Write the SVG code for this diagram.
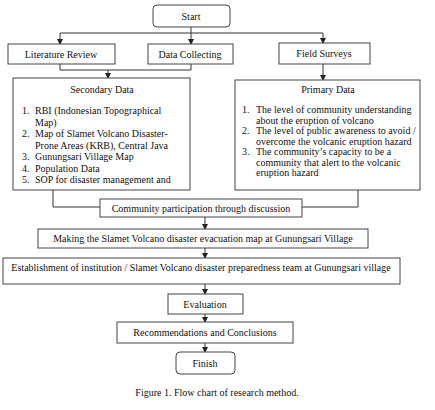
<svg xmlns="http://www.w3.org/2000/svg" width="435" height="410" viewBox="0 0 435 410">
<defs>
<marker id="ah" markerWidth="6" markerHeight="6" refX="5" refY="3" orient="auto" markerUnits="userSpaceOnUse">
<path d="M0,0 L6,3 L0,6 z" fill="#222"/>
</marker>
<style>
.box{fill:#fff;stroke:#444;stroke-width:1}
.ln{fill:none;stroke:#333;stroke-width:1}
.ar{fill:none;stroke:#333;stroke-width:1;marker-end:url(#ah)}
text{font-family:"Liberation Serif","Times New Roman",serif;font-size:10px;fill:#111}
.c{text-anchor:middle}
</style>
</defs>
<rect width="435" height="410" fill="#fff"/>
<g id="connectors">
<path class="ln" d="M60,33 H323"/>
<path class="ar" d="M191,27 V44"/>
<path class="ar" d="M60,33 V44"/>
<path class="ar" d="M323,33 V43"/>
<path class="ln" d="M60,64 V70 H191 V64"/>
<path class="ar" d="M108,70 V78"/>
<path class="ar" d="M323,64 V80"/>
<path class="ln" d="M53,190 V207 H100"/>
<path class="ln" d="M358,190 V207 H302"/>
<path class="ar" d="M205,217 V229"/>
<path class="ar" d="M205,248 V258"/>
<path class="ar" d="M205,284 V294"/>
<path class="ar" d="M205,314 V322"/>
<path class="ar" d="M205,343 V352"/>
</g>
<g id="start"><rect class="box" x="153" y="5" width="77" height="22" rx="4"/><text class="c" x="191" y="19.5">Start</text></g>
<g id="literature"><rect class="box" x="8" y="44" width="107" height="20"/><text class="c" x="61" y="57.5">Literature Review</text></g>
<g id="datacollecting"><rect class="box" x="148" y="44" width="85" height="20"/><text class="c" x="190" y="57.5">Data Collecting</text></g>
<g id="fieldsurveys"><rect class="box" x="279" y="43" width="91" height="21"/><text class="c" x="324" y="57">Field Surveys</text></g>
<g id="secondary"><rect class="box" x="13" y="78" width="177" height="112"/>
<text class="c" x="102" y="93">Secondary Data</text>
<text x="22" y="114">1.</text><text x="35" y="114">RBI (Indonesian Topographical</text>
<text x="35" y="125.5">Map)</text>
<text x="22" y="137">2.</text><text x="35" y="137">Map of Slamet Volcano Disaster-</text>
<text x="35" y="148.5">Prone Areas (KRB), Central Java</text>
<text x="22" y="160">3.</text><text x="35" y="160">Gunungsari Village Map</text>
<text x="22" y="171.5">4.</text><text x="35" y="171.5">Population Data</text>
<text x="22" y="183">5.</text><text x="35" y="183">SOP for disaster management and</text>
</g>
<g id="primary"><rect class="box" x="235" y="80" width="185" height="110"/>
<text class="c" x="328" y="93">Primary Data</text>
<text x="242" y="113">1.</text><text x="256" y="113">The level of community understanding</text>
<text x="256" y="123.5">about the eruption of volcano</text>
<text x="242" y="134">2.</text><text x="256" y="134">The level of public awareness to avoid /</text>
<text x="256" y="144.5">overcome the volcanic eruption hazard</text>
<text x="242" y="155">3.</text><text x="256" y="155">The community’s capacity to be a</text>
<text x="256" y="165.5">community that alert to the volcanic</text>
<text x="256" y="176">eruption hazard</text>
</g>
<g id="community"><rect class="box" x="100" y="199" width="202" height="18"/><text class="c" x="201" y="212">Community participation through discussion</text></g>
<g id="making"><rect class="box" x="38" y="229" width="330" height="19"/><text class="c" x="203" y="242">Making the Slamet Volcano disaster evacuation map at Gunungsari Village</text></g>
<g id="establishment"><rect class="box" x="3" y="258" width="397" height="26"/><text class="c" x="201" y="271">Establishment of institution / Slamet Volcano disaster preparedness team at Gunungsari village</text></g>
<g id="evaluation"><rect class="box" x="168" y="294" width="75" height="20"/><text class="c" x="205" y="307.5">Evaluation</text></g>
<g id="recommendations"><rect class="box" x="117" y="322" width="176" height="21"/><text class="c" x="205" y="336">Recommendations and Conclusions</text></g>
<g id="finish"><rect class="box" x="176" y="352" width="59" height="22" rx="4"/><text class="c" x="205" y="366.5">Finish</text></g>
<text class="c" x="217" y="396">Figure 1. Flow chart of research method.</text>
</svg>
